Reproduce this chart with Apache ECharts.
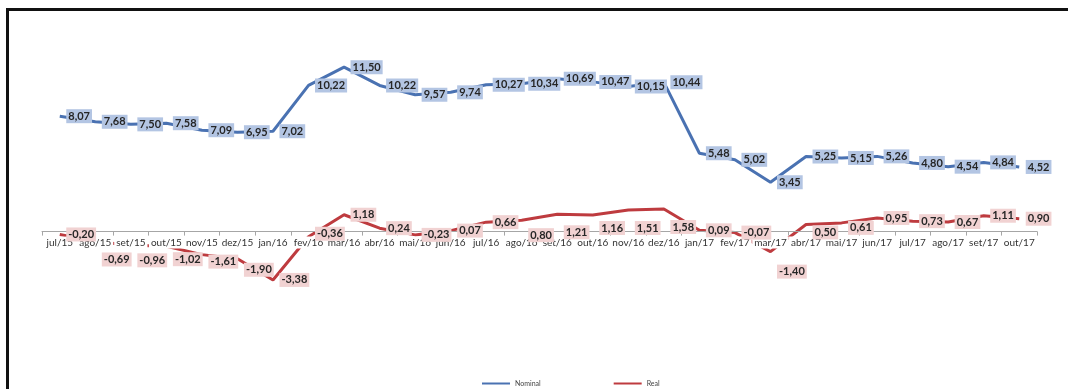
<!DOCTYPE html>
<html>
<head>
<meta charset="utf-8">
<script src="https://cdn.jsdelivr.net/npm/echarts@6/dist/echarts.min.js"></script>
<style>
  html, body { margin: 0; padding: 0; background: #fff; overflow: hidden; }
  #frame { position: absolute; left: 6px; top: 8px; width: 1300px; height: 600px; border: 3px solid #111; box-sizing: border-box; }
  #chart { position: absolute; left: 0; top: 0; width: 1068px; height: 389px; }
</style>
</head>
<body>
<div id="frame"></div>
<div id="chart"></div>
<script>
// ---- data ----
const categories = ['jul/15','ago/15','set/15','out/15','nov/15','dez/15','jan/16','fev/16','mar/16','abr/16','mai/16','jun/16','jul/16','ago/16','set/16','out/16','nov/16','dez/16','jan/17','fev/17','mar/17','abr/17','mai/17','jun/17','jul/17','ago/17','set/17','out/17'];
const nominal = [8.07, 7.68, 7.50, 7.58, 7.09, 6.95, 7.02, 10.22, 11.50, 10.22, 9.57, 9.74, 10.27, 10.34, 10.69, 10.47, 10.15, 10.44, 5.48, 5.02, 3.45, 5.25, 5.15, 5.26, 4.80, 4.54, 4.84, 4.52];
const real = [-0.20, -0.69, -0.96, -1.02, -1.61, -1.90, -3.38, -0.36, 1.18, 0.24, -0.23, 0.07, 0.66, 0.80, 1.21, 1.16, 1.51, 1.58, 0.09, -0.07, -1.40, 0.50, 0.61, 0.95, 0.73, 0.67, 1.11, 0.90];
const seriesNames = ['Nominal', 'Real'];

// ---- label layout nudges (style only) ----
const realLabelOffsetY = [0, 18, 15, 13, 7, 11, 0, -3, 0, 0, 0, 0, 0, 15, 18, 13, 18, 18, 0, 0, 20, 8, 5, 0, 0, 0, 0, 0];

const fmt = v => v.toFixed(2).replace('.', ',');
const labelFont = { fontFamily: 'Lato', fontWeight: 'bold', fontSize: 11, color: '#262626' };
const BLUE = '#4a72b2', RED = '#be3b3f';

const Y_MIN = -8, Y_MAX = 12;
const GRID_TOP = 60, GRID_H = 286;
// pixel row of the zero line, so the visible category axis sits there
const ZERO_Y = GRID_TOP + GRID_H * Y_MAX / (Y_MAX - Y_MIN);

// line series (drawn under the axis labels)
function lineSeries(name, values, color) {
  return {
    name, type: 'line', data: values, xAxisIndex: 0, yAxisIndex: 0,
    symbol: 'none', itemStyle: { color }, lineStyle: { color, width: 3 }, z: 1
  };
}
// value-label layer (drawn above the axis labels)
function labelSeries(name, values, bg, offsets) {
  return {
    name, type: 'scatter', xAxisIndex: 0, yAxisIndex: 0, z: 5,
    data: values.map((v, i) => ({ value: v, label: { offset: [0, offsets ? offsets[i] : 0] } })),
    symbolSize: 1, itemStyle: { color: 'rgba(0,0,0,0)' }, silent: true,
    label: {
      show: true, position: 'right', distance: 6, opacity: 1,
      formatter: p => fmt(p.value),
      backgroundColor: bg, padding: [2, 2, 1, 2],
      ...labelFont
    }
  };
}

const chart = echarts.init(document.getElementById('chart'), null, { renderer: 'canvas' });
chart.setOption({
  animation: false,
  backgroundColor: 'transparent',
  grid: [
    { left: 42, right: 31, top: GRID_TOP, height: GRID_H, containLabel: false },
    { left: 42, right: 31, top: ZERO_Y, height: 0, containLabel: false }
  ],
  xAxis: [
    {
      gridIndex: 0, type: 'category', data: categories, boundaryGap: true,
      axisLine: { show: false }, axisTick: { show: false }, axisLabel: { show: false },
      splitLine: { show: false }
    },
    {
      gridIndex: 1, type: 'category', data: categories, boundaryGap: true, position: 'bottom',
      z: 3,
      axisLine: { show: true, lineStyle: { color: '#a6a6a6', width: 1 } },
      axisTick: { show: true, length: 4, lineStyle: { color: '#a6a6a6' } },
      axisLabel: {
        interval: 0, margin: 5, fontFamily: 'Lato', fontSize: 10, color: '#333',
        backgroundColor: '#ffffff', padding: [1, 2, 1, 2]
      },
      splitLine: { show: false }
    }
  ],
  yAxis: [
    { gridIndex: 0, type: 'value', min: Y_MIN, max: Y_MAX, interval: 2, show: false, splitLine: { show: false } },
    { gridIndex: 1, type: 'value', min: 0, max: 1, show: false, splitLine: { show: false } }
  ],
  legend: {
    top: 375, left: 477,
    itemGap: 73, itemWidth: 28, itemHeight: 2,
    textStyle: { fontFamily: 'Lato', fontSize: 7, color: '#444' },
    data: [
      { name: seriesNames[0], icon: 'rect' },
      { name: seriesNames[1], icon: 'rect' }
    ]
  },
  series: [
    lineSeries(seriesNames[0], nominal, BLUE),
    lineSeries(seriesNames[1], real, RED),
    labelSeries(seriesNames[0] + ' rótulos', nominal, '#b3c5e3', null),
    labelSeries(seriesNames[1] + ' rótulos', real, '#f1d2d2', realLabelOffsetY)
  ]
});
</script>
</body>
</html>
